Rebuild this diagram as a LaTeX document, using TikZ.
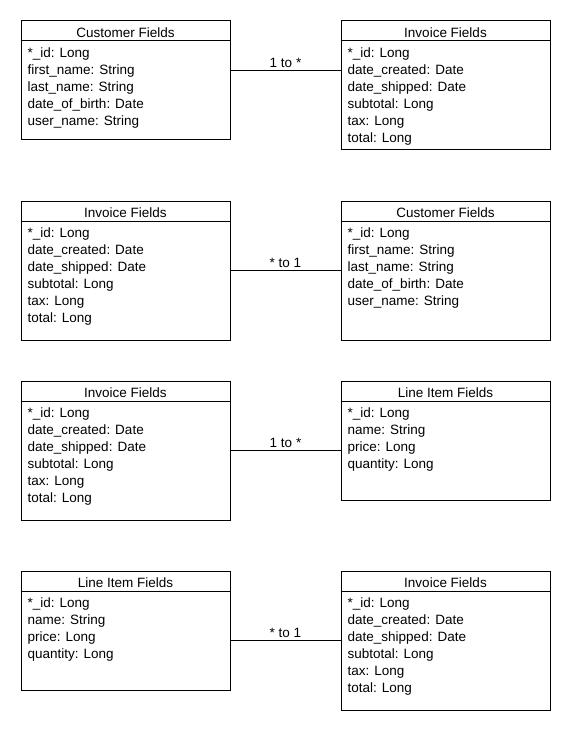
\documentclass[tikz,border=0pt]{standalone}
\usepackage{fontspec}
\setmainfont{Liberation Sans}
\tikzset{
  box/.style={draw=black, line width=1pt, minimum width=209pt, inner sep=0pt, fill=white},
  titletext/.style={anchor=base, inner sep=0pt, font=\fontsize{13.5}{17}\selectfont},
  fieldtext/.style={anchor=base west, inner sep=0pt, font=\fontsize{13.5}{17}\selectfont},
  link/.style={draw=black, line width=1pt},
  lbl/.style={anchor=base, inner sep=0pt, yshift=3pt, font=\fontsize{13.5}{17}\selectfont}
}
\newcommand\umlbox[6]{%
  \node[box, minimum height=#4pt, anchor=north west] (#1) at (#2,#3) {};
  \draw[line width=1pt] ([yshift=-20.5pt]#1.north west) -- ([yshift=-20.5pt]#1.north east);
  \node[titletext] (#1-t) at ([yshift=-17pt]#1.north) {#5};
  \foreach \f [count=\i] in {#6}
    \node[fieldtext] (#1-\i) at ([xshift=7pt, yshift=-20pt-17pt*\i]#1.north west) {\f};
}
\begin{document}
\begin{tikzpicture}[x=1pt,y=-1pt]
\useasboundingbox (0,0) rectangle (570,730);
% row 1
\umlbox{c1}{20.5}{20.5}{119}{Customer Fields}{*\_id: Long, first\_name: String, last\_name: String, date\_of\_birth: Date, user\_name: String}
\umlbox{i1}{340.5}{20.5}{129}{Invoice Fields}{*\_id: Long, date\_created: Date, date\_shipped: Date, subtotal: Long, tax: Long, total: Long}
\draw[link] ([yshift=-50pt]c1.north east) -- node[lbl] {1 to *} ([yshift=-50pt]i1.north west);
% row 2
\umlbox{i2}{20.5}{200.5}{139}{Invoice Fields}{*\_id: Long, date\_created: Date, date\_shipped: Date, subtotal: Long, tax: Long, total: Long}
\umlbox{c2}{340.5}{200.5}{139}{Customer Fields}{*\_id: Long, first\_name: String, last\_name: String, date\_of\_birth: Date, user\_name: String}
\draw[link] ([yshift=-70pt]i2.north east) -- node[lbl] {* to 1} ([yshift=-70pt]c2.north west);
% row 3
\umlbox{i3}{20.5}{380.5}{139}{Invoice Fields}{*\_id: Long, date\_created: Date, date\_shipped: Date, subtotal: Long, tax: Long, total: Long}
\umlbox{l3}{340.5}{380.5}{119}{Line Item Fields}{*\_id: Long, name: String, price: Long, quantity: Long}
\draw[link] ([yshift=-70pt]i3.north east) -- node[lbl] {1 to *} ([yshift=-70pt]l3.north west);
% row 4
\umlbox{l4}{20.5}{570.5}{119}{Line Item Fields}{*\_id: Long, name: String, price: Long, quantity: Long}
\umlbox{i4}{340.5}{570.5}{139}{Invoice Fields}{*\_id: Long, date\_created: Date, date\_shipped: Date, subtotal: Long, tax: Long, total: Long}
\draw[link] ([yshift=-70pt]l4.north east) -- node[lbl] {* to 1} ([yshift=-70pt]i4.north west);
\end{tikzpicture}
\end{document}
